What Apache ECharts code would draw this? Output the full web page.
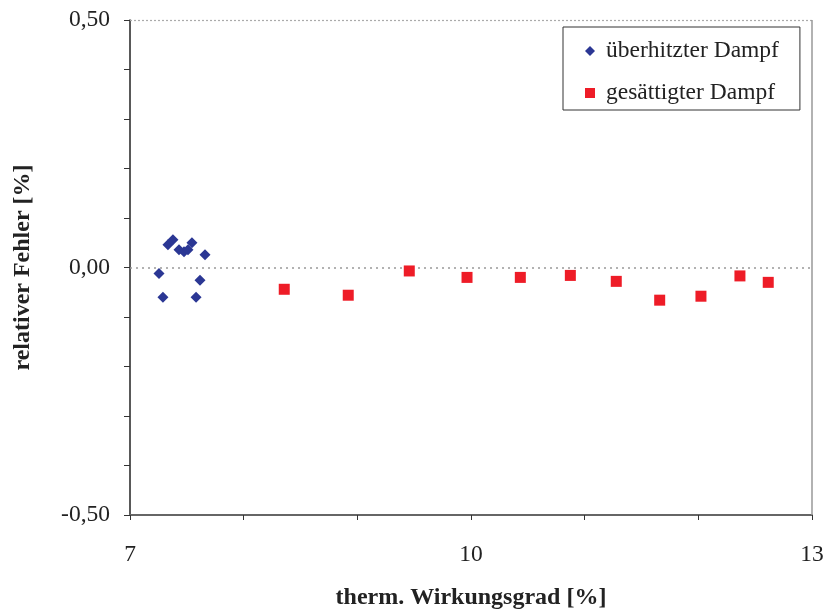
<!DOCTYPE html>
<html><head><meta charset="utf-8">
<script src="https://cdn.jsdelivr.net/npm/echarts@6/dist/echarts.min.js"></script>
<style>html,body{margin:0;padding:0;background:#fff}#c{width:827px;height:615px}</style>
</head><body><div id="c"></div>
<script>
const ueberhitztX = [7.255, 7.290, 7.334, 7.378, 7.431, 7.475, 7.510, 7.545, 7.660, 7.616, 7.581];
const ueberhitztY = [-0.012, -0.060, 0.046, 0.056, 0.036, 0.032, 0.036, 0.050, 0.026, -0.026, -0.060];
const gesaettigtX = [8.357, 8.920, 9.457, 9.965, 10.434, 10.874, 11.278, 11.660, 12.023, 12.366, 12.615];
const gesaettigtY = [-0.044, -0.056, -0.007, -0.020, -0.020, -0.016, -0.028, -0.066, -0.058, -0.017, -0.030];
const xLabels = {7: '7', 10: '10', 13: '13'};
const yLabels = {'0.5': '0,50', '0': '0,00', '-0.5': '-0,50'};

const FONT = 'Liberation Serif';
const BLUE = '#2B3794';
const RED = '#EE1C27';
const pair = (xs, ys) => xs.map((x, i) => [x, ys[i]]);

const chart = echarts.init(document.getElementById('c'));
chart.setOption({
  animation: false,
  backgroundColor: '#fff',
  textStyle: {fontFamily: FONT},
  grid: {left: 130, right: 15, top: 20, bottom: 97, containLabel: false},
  legend: {
    left: 563, top: 27, orient: 'vertical',
    backgroundColor: '#fff', borderColor: '#333', borderWidth: 1,
    padding: [12, 21, 5, 22], itemGap: 18,
    itemWidth: 10, itemHeight: 10,
    textStyle: {fontFamily: FONT, fontSize: 23.5, color: '#222', padding: [0, 0, 0, 6]},
    data: [
      {name: 'überhitzter Dampf', icon: 'diamond', itemStyle: {color: BLUE}},
      {name: 'gesättigter Dampf', icon: 'rect', itemStyle: {color: RED}}
    ]
  },
  xAxis: {
    type: 'value', min: 7, max: 13, interval: 1,
    name: 'therm. Wirkungsgrad [%]', nameLocation: 'middle', nameGap: 71,
    nameTextStyle: {fontFamily: FONT, fontSize: 24, fontWeight: 'bold', color: '#222'},
    axisLine: {show: true, onZero: false, lineStyle: {color: '#666', width: 2}},
    axisTick: {show: true, length: 5, lineStyle: {color: '#333'}},
    axisLabel: {margin: 28, fontFamily: FONT, fontSize: 23.5, color: '#222',
      formatter: v => xLabels[Math.round(v)] !== undefined && Math.abs(v - Math.round(v)) < 1e-6 ? xLabels[Math.round(v)] : ''},
    splitLine: {show: false}
  },
  yAxis: {
    type: 'value', min: -0.5, max: 0.5, interval: 0.1,
    name: 'relativer Fehler [%]', nameLocation: 'middle', nameGap: 95,
    nameTextStyle: {fontFamily: FONT, fontSize: 24, fontWeight: 'bold', color: '#222'},
    axisLine: {show: true, onZero: false, lineStyle: {color: '#222', width: 1.5}},
    axisTick: {show: true, length: 6, lineStyle: {color: '#333'}},
    axisLabel: {margin: 20, fontFamily: FONT, fontSize: 23.5, color: '#222',
      formatter: v => { const k = String(Math.round(v * 10) / 10); return yLabels[k] !== undefined && Math.abs(v*2 - Math.round(v*2)) < 1e-6 ? yLabels[k] : ''; }},
    splitLine: {show: false}
  },
  series: [
    {
      name: 'überhitzter Dampf', type: 'scatter', symbol: 'diamond', symbolSize: 11,
      itemStyle: {color: BLUE, opacity: 1}, data: pair(ueberhitztX, ueberhitztY), z: 5,
      markLine: {
        silent: true, symbol: 'none', label: {show: false}, z: 1,
        data: [
          {yAxis: 0, lineStyle: {color: '#999', type: [2, 4], width: 1.5}},
          {yAxis: 0.5, lineStyle: {color: '#aaa', type: [2, 2], width: 1.2}},
          {xAxis: 13, lineStyle: {color: '#999', type: 'solid', width: 1.5}}
        ]
      }
    },
    {
      name: 'gesättigter Dampf', type: 'scatter', symbol: 'rect', symbolSize: 11,
      itemStyle: {color: RED, opacity: 1}, data: pair(gesaettigtX, gesaettigtY), z: 5
    }
  ]
});
</script></body></html>
